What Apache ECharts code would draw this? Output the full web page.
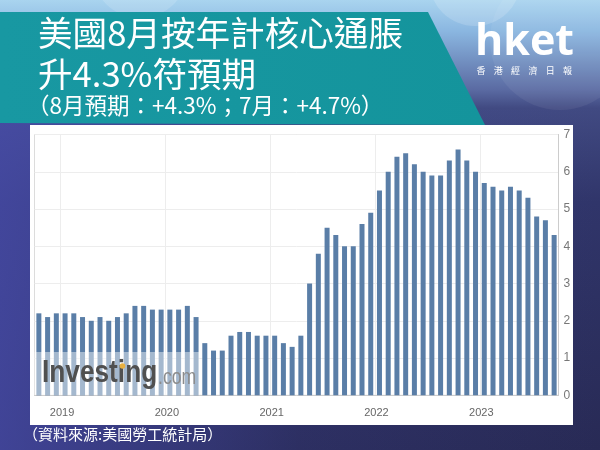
<!DOCTYPE html>
<html><head><meta charset="utf-8">
<script src="https://cdn.jsdelivr.net/npm/echarts@6/dist/echarts.min.js"></script>
<style>html,body{margin:0;padding:0;background:#272a55}#c{width:600px;height:450px}</style>
</head><body><div id="c"></div>
<script>
// ---- data ----
const months = [
 '2018-09','2018-10','2018-11','2018-12',
 '2019-01','2019-02','2019-03','2019-04','2019-05','2019-06','2019-07','2019-08','2019-09','2019-10','2019-11','2019-12',
 '2020-01','2020-02','2020-03','2020-04','2020-05','2020-06','2020-07','2020-08','2020-09','2020-10','2020-11','2020-12',
 '2021-01','2021-02','2021-03','2021-04','2021-05','2021-06','2021-07','2021-08','2021-09','2021-10','2021-11','2021-12',
 '2022-01','2022-02','2022-03','2022-04','2022-05','2022-06','2022-07','2022-08','2022-09','2022-10','2022-11','2022-12',
 '2023-01','2023-02','2023-03','2023-04','2023-05','2023-06','2023-07','2023-08'
];
const coreCPI = [
 2.2, 2.1, 2.2, 2.2,
 2.2, 2.1, 2.0, 2.1, 2.0, 2.1, 2.2, 2.4, 2.4, 2.3, 2.3, 2.3,
 2.3, 2.4, 2.1, 1.4, 1.2, 1.2, 1.6, 1.7, 1.7, 1.6, 1.6, 1.6,
 1.4, 1.3, 1.6, 3.0, 3.8, 4.5, 4.3, 4.0, 4.0, 4.6, 4.9, 5.5,
 6.0, 6.4, 6.5, 6.2, 6.0, 5.9, 5.9, 6.3, 6.6, 6.3, 6.0, 5.7,
 5.6, 5.5, 5.6, 5.5, 5.3, 4.8, 4.7, 4.3
];
const yearTickMonths = ['2018-12','2019-12','2020-12','2021-12','2022-12'];
const yearLabels = ['2019','2020','2021','2022','2023'];
const yMin = 0, yMax = 7, yStep = 1;

const titleLines = ['美國8月按年計核心通脹', '升4.3%符預期'];
const subTitle = '（8月預期：+4.3%；7月：+4.7%）';
const sourceText = '（資料來源:美國勞工統計局）';
const logoText = 'hket';
const logoSub = ['香','港','經','濟','日','報'];

// ---- chart ----
const chart = echarts.init(document.getElementById('c'), null, {renderer:'canvas', width:600, height:450});
const LG = echarts.graphic.LinearGradient;
const CJK = '"Noto Sans CJK TC","Noto Sans CJK SC",sans-serif';

const graphics = [
 {type:'rect', z:-30, shape:{x:0,y:0,width:600,height:450},
  style:{fill:new LG(0,0,0,1,[
    {offset:0,color:'#a9d4ef'},{offset:0.07,color:'#8ab6e0'},{offset:0.2,color:'#5a6aa2'},
    {offset:0.24,color:'#414a82'},{offset:0.45,color:'#30356a'},{offset:1,color:'#282a55'}])}},
 {type:'rect', z:-29, shape:{x:0,y:110,width:600,height:340},
  style:{fill:new LG(0,0,1,0,[{offset:0,color:'rgba(72,76,172,0.75)'},{offset:0.5,color:'rgba(72,76,172,0.15)'},{offset:1,color:'rgba(72,76,172,0)'}])}},
 {type:'circle', z:-28, shape:{cx:475,cy:-20,r:46}, style:{fill:'rgba(255,255,255,0.16)'}},
 {type:'circle', z:-28, shape:{cx:140,cy:-30,r:48}, style:{fill:'rgba(255,255,255,0.14)'}},
 {type:'circle', z:-28, shape:{cx:560,cy:40,r:70}, style:{fill:'rgba(255,255,255,0.06)'}},
 {type:'polygon', z:-20, shape:{points:[[0,12],[428,12],[485,125],[0,123]]},
  style:{fill:new LG(0,0,1,0,[{offset:0,color:'#1898a2'},{offset:1,color:'#14949c'}])}},
 {type:'rect', z:-15, shape:{x:30,y:125,width:543,height:300}, style:{fill:'#ffffff'}},
 {type:'text', z:20, style:{text:titleLines[0], x:38, y:33, fill:'#fff', font:'34.6px '+CJK, textVerticalAlign:'middle'}},
 {type:'text', z:20, style:{text:titleLines[1], x:38, y:74, fill:'#fff', font:'34.6px '+CJK, textVerticalAlign:'middle'}},
 {type:'text', z:20, style:{text:subTitle, x:27, y:105, fill:'#fff', font:'22.5px '+CJK, textVerticalAlign:'middle'}},
 {type:'text', z:20, style:{text:sourceText, x:23, y:434, fill:'#fff', font:'15px '+CJK, textVerticalAlign:'middle'}},
 {type:'text', z:20, style:{text:logoText, x:475, y:43, fill:'#fff', font:'bold 43px "Open Sans",sans-serif', textVerticalAlign:'middle'}},
 // watermark
 {type:'rect', z:50, shape:{x:34.5,y:352,width:165,height:43}, style:{fill:'rgba(255,255,255,0.45)'}},
 {type:'text', z:51, x:42, y:389, scaleX:0.82, style:{text:'Investing', x:0, y:0, fill:'#505050', font:'bold 32px "Liberation Sans",Arial,sans-serif', textVerticalAlign:'bottom'}},
 {type:'circle', z:52, shape:{cx:122.5, cy:366, r:2.8}, style:{fill:'#e8b040'}},
 {type:'text', z:51, x:158, y:389, scaleX:0.8, style:{text:'.com', x:0, y:0, fill:'#8c8c8c', font:'22px "Liberation Sans",Arial,sans-serif', textVerticalAlign:'bottom'}}
];
logoSub.forEach((ch,i)=>{
  graphics.push({type:'text', z:20, style:{text:ch, x:481+i*17.3, y:71, fill:'#fff', font:'9px '+CJK, textAlign:'center', textVerticalAlign:'middle'}});
});

const option = {
  animation:false,
  backgroundColor:'transparent',
  grid:{left:34.5, right:41.5, top:134.5, bottom:54.7, show:true, backgroundColor:'#fff', borderColor:'#dcdcdc', borderWidth:1},
  xAxis:{
    type:'category', data:months, boundaryGap:true,
    axisLine:{show:true, lineStyle:{color:'#cccccc'}},
    axisTick:{show:false},
    axisLabel:{
      interval:(i,v)=>yearTickMonths.indexOf(v)>=0,
      formatter:(v)=>yearLabels[yearTickMonths.indexOf(v)],
      color:'#666', fontSize:11, fontFamily:'"Liberation Sans",Arial,sans-serif', margin:12, padding:[0,6,0,0]
    },
    splitLine:{show:true, interval:(i,v)=>yearTickMonths.indexOf(v)>=0, lineStyle:{color:'#ededed'}}
  },
  yAxis:{
    type:'value', position:'right', min:yMin, max:yMax, interval:yStep,
    axisLine:{show:true, lineStyle:{color:'#cccccc'}},
    axisTick:{show:false},
    axisLabel:{color:'#777', fontSize:12, fontFamily:'"Liberation Sans",Arial,sans-serif', margin:5},
    splitLine:{show:true, lineStyle:{color:'#ededed'}}
  },
  series:[{type:'bar', data:coreCPI, barWidth:5, itemStyle:{color:'#5a7ea7'}}],
  graphic:{elements:graphics}
};
chart.setOption(option);
</script></body></html>
